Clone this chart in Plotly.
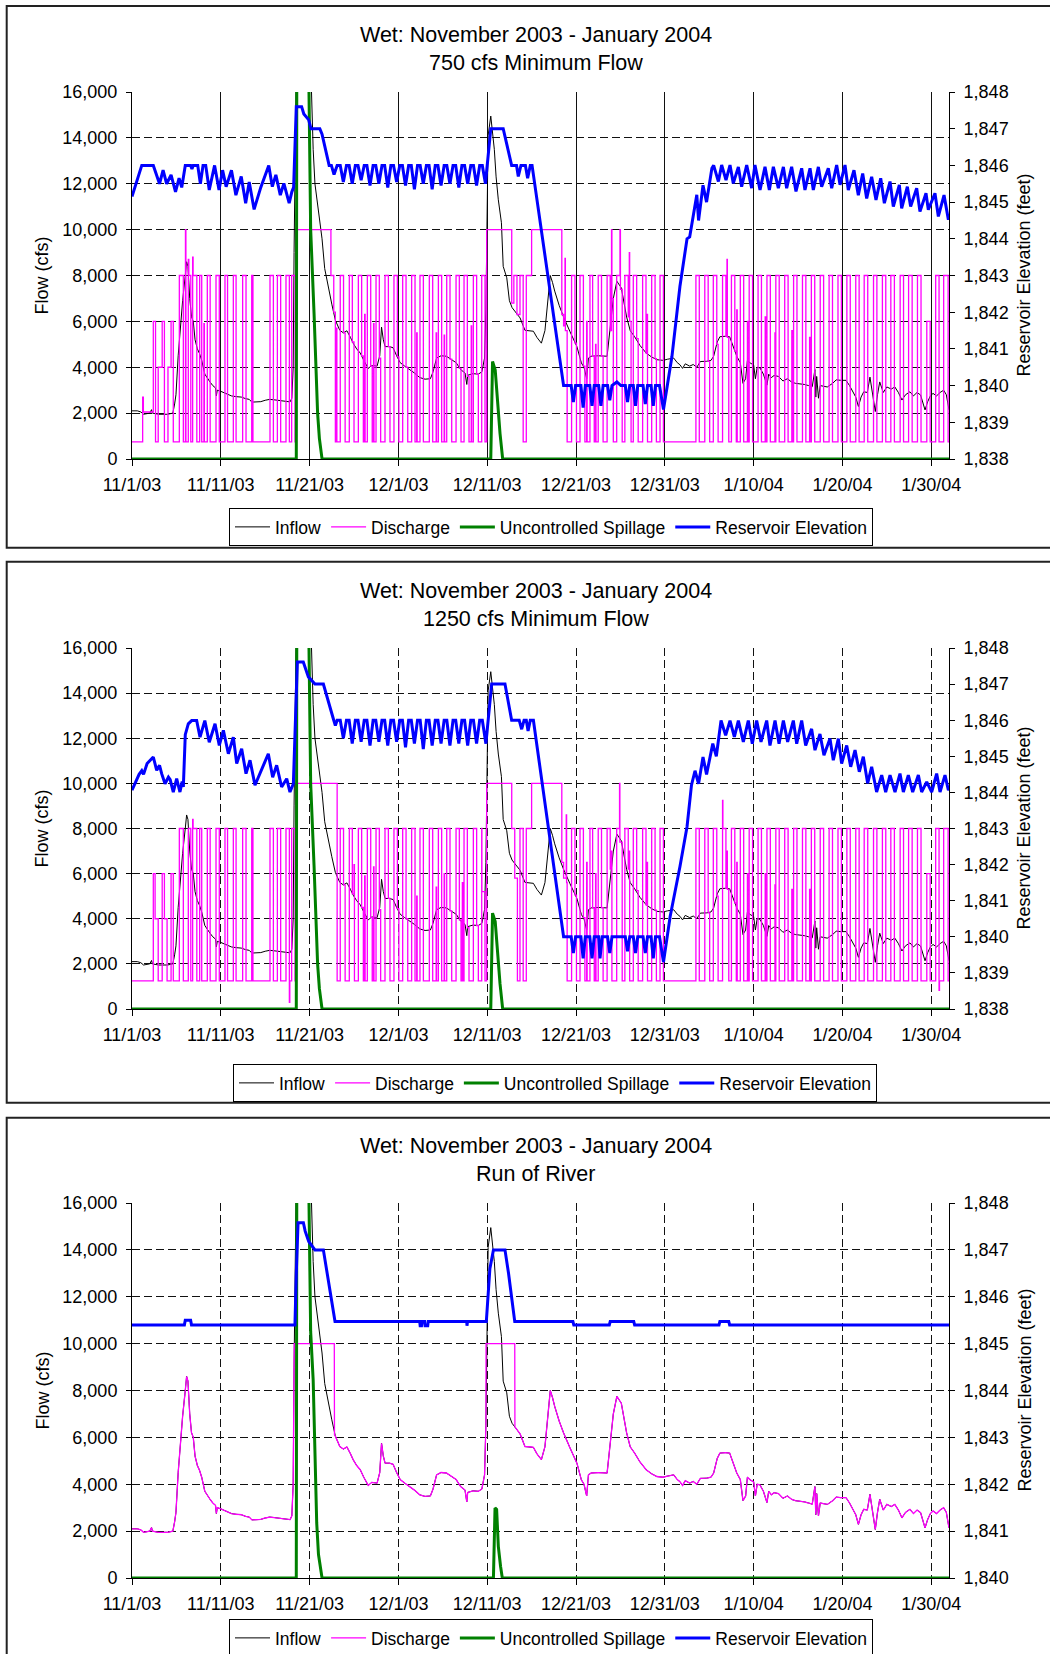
import numpy as np
import pandas as pd
import plotly.graph_objects as go

START = "2003-11-01"
END = "2004-02-01"
TICK_DAYS = [0, 10, 20, 30, 40, 50, 60, 70, 80, 90]
TICK_LABELS = ["11/1/03", "11/11/03", "11/21/03", "12/1/03", "12/11/03",
               "12/21/03", "12/31/03", "1/10/04", "1/20/04", "1/30/04"]
MAIN_TITLE = "Wet: November 2003 - January 2004"
SUB_TITLES = ["750 cfs Minimum Flow", "1250 cfs Minimum Flow", "Run of River"]
SERIES_NAMES = ["Inflow", "Discharge", "Uncontrolled Spillage", "Reservoir Elevation"]

# (day since 11/1/03, cfs)
INFLOW = [
    (0.0, 2100), (0.6, 2100), (1.0, 2050), (1.3, 1950), (2.0, 2000), (2.2, 2150), (2.3, 2000), (3.0, 1950), (4.0, 1950), (4.6, 2000),
    (4.8, 2400), (4.95, 2800), (5.2, 4500), (5.45, 5900), (5.7, 6900), (6.0, 8000), (6.15, 8600), (6.3, 8400), (6.5, 7000), (6.7, 6200),
    (6.9, 6000), (7.1, 5200), (7.36, 4800), (7.6, 4600), (7.85, 4300), (8.2, 3700), (8.5, 3500), (8.8, 3350), (9.1, 3200), (9.4, 3100),
    (9.5, 2750), (9.6, 3000), (10.0, 2950), (10.6, 2850), (11.2, 2750), (11.7, 2720), (12.3, 2700), (12.8, 2630), (13.2, 2600), (13.5, 2480),
    (14.0, 2500), (14.5, 2500), (15.0, 2560), (15.5, 2600), (16.0, 2580), (16.5, 2560), (17.0, 2550), (17.5, 2520), (17.8, 2490), (18.0, 2650),
    (18.15, 4000), (18.25, 9000), (18.35, 16500), (18.6, 20500), (19.2, 22000), (19.8, 19000), (20.2, 16200), (20.4, 13500), (20.6, 12000), (21.0, 10900),
    (21.4, 9600), (21.7, 8300), (21.9, 7900), (22.2, 7200), (22.5, 6750), (22.9, 6050), (23.4, 5610), (23.8, 5500), (24.2, 5590), (24.6, 5300),
    (24.9, 5050), (25.3, 4800), (25.7, 4620), (26.1, 4300), (26.4, 4050), (26.6, 3950), (27.0, 4080), (27.6, 4050), (27.9, 4500), (28.1, 5750),
    (28.3, 5200), (28.5, 4900), (29.0, 4900), (29.4, 4850), (29.8, 4500), (30.2, 4200), (30.7, 4050), (31.3, 3900), (31.8, 3750), (32.4, 3550),
    (33.0, 3480), (33.6, 3500), (33.9, 3800), (34.3, 4400), (34.8, 4500), (35.4, 4480), (35.9, 4350), (36.5, 4200), (37.0, 3900), (37.5, 3750),
    (37.7, 3250), (37.8, 3650), (38.4, 3720), (39.0, 3700), (39.4, 3800), (39.7, 4400), (39.85, 6500), (40.0, 11000), (40.1, 14100), (40.4, 14950),
    (40.6, 14300), (40.8, 13500), (41.0, 12300), (41.25, 11300), (41.6, 10300), (41.8, 8400), (42.2, 7900), (42.5, 6900), (42.8, 6600), (43.1, 6450),
    (43.7, 6150), (44.25, 5610), (44.8, 5600), (45.2, 5570), (45.6, 5300), (46.1, 5050), (46.5, 5600), (46.8, 6800), (47.1, 8000), (47.35, 7700),
    (47.6, 7320), (48.1, 6700), (48.6, 6190), (49.3, 5570), (49.7, 5200), (50.1, 4900), (50.6, 4190), (50.9, 4000), (51.2, 3500), (51.4, 4400),
    (51.7, 4480), (52.5, 4500), (53.5, 4480), (53.8, 5610), (54.2, 7000), (54.6, 7750), (55.1, 7460), (55.7, 6190), (56.1, 5600), (56.6, 5330),
    (57.2, 4950), (57.9, 4620), (58.5, 4450), (59.1, 4330), (59.8, 4300), (60.3, 4350), (61.0, 4400), (61.4, 4200), (61.7, 4110), (62.0, 3950),
    (62.3, 4150), (62.8, 4050), (63.2, 4120), (63.6, 4000), (64.0, 4250), (64.7, 4260), (65.2, 4300), (65.5, 4480), (65.9, 5100), (66.2, 5330),
    (66.8, 5350), (67.3, 5330), (67.7, 4900), (68.1, 4480), (68.5, 4200), (68.8, 3300), (69.1, 3500), (69.3, 4300), (69.6, 4190), (70.0, 4100),
    (70.2, 3500), (70.4, 4000), (70.7, 3980), (71.1, 3700), (71.5, 3220), (71.7, 3700), (72.0, 3550), (72.3, 3640), (72.8, 3600), (73.3, 3400),
    (73.8, 3500), (74.3, 3350), (74.7, 3300), (75.2, 3280), (75.7, 3250), (76.2, 3200), (76.6, 3150), (76.9, 3900), (77.0, 2700), (77.1, 3600),
    (77.3, 2650), (77.5, 3200), (78.0, 3150), (78.3, 3140), (78.9, 3300), (79.3, 3450), (79.8, 3430), (80.4, 3430), (80.8, 3200), (81.2, 2930),
    (81.5, 2700), (81.8, 2290), (82.1, 2700), (82.4, 2930), (82.8, 2900), (83.1, 3570), (83.4, 2700), (83.7, 2070), (83.95, 2800), (84.2, 3360),
    (84.6, 2900), (85.0, 3140), (85.5, 3050), (85.9, 3140), (86.3, 2900), (86.7, 2570), (87.1, 2800), (87.6, 2930), (88.0, 2750), (88.4, 2900),
    (88.8, 2790), (89.3, 2140), (89.6, 2500), (89.9, 2750), (90.2, 2860), (90.6, 2750), (91.0, 2900), (91.4, 3000), (91.7, 2800), (92.0, 2140),
]

# Discharge, 750 cfs minimum (step series)
DIS1 = [
    (0.0, 750), (1.2, 2700), (1.28, 2050), (2.4, 6000), (2.65, 750), (2.95, 4000), (3.4, 6000), (3.65, 750), (4.05, 4000), (4.4, 6000), (4.65, 750),
    (5.33, 8000), (5.78, 750), (6.02, 10000), (6.07, 750), (6.34, 8700), (6.4, 8000), (6.62, 750), (6.83, 8800), (6.88, 8000), (7.3, 750),
    (7.62, 8000), (7.85, 750), (8.1, 5900), (8.15, 750), (8.48, 8000), (8.8, 750), (9.46, 8000), (9.83, 750), (10.47, 8000), (10.76, 750),
    (11.41, 8000), (11.72, 750), (12.46, 8000), (12.84, 750), (13.48, 8000), (13.62, 750),
    (15.54, 8000), (15.92, 750), (16.37, 8000), (16.74, 750), (17.34, 8000), (17.72, 750), (17.98, 8000), (18.36, 750),
    (18.43, 10000), (22.4, 8000), (22.72, 6400), (22.9, 750), (23.02, 5700), (23.07, 750), (23.45, 8000), (23.82, 5500), (24.0, 750),
    (24.47, 8000), (24.81, 5100), (25.0, 750), (25.49, 8000), (25.86, 4500), (26.05, 750), (26.2, 6300), (26.25, 750),
    (26.5, 8000), (26.88, 4050), (27.05, 750), (27.2, 5900), (27.25, 750),
    (27.48, 8000), (27.85, 4400), (28.0, 750), (28.49, 8000), (28.87, 4900), (29.05, 750), (29.5, 8000), (29.88, 4450), (30.05, 750),
    (30.48, 8000), (30.86, 4000), (31.05, 750),
    (31.49, 8000), (31.87, 750), (32.06, 5500), (32.11, 750), (32.43, 8000), (32.81, 750), (33.48, 8000), (33.86, 750), (34.25, 5500), (34.3, 750),
    (34.5, 8000), (34.87, 750), (35.15, 5400), (35.2, 750), (35.44, 8000), (35.81, 4350), (36.0, 750), (36.49, 8000), (36.86, 3950), (37.05, 750),
    (37.39, 8000), (37.76, 3600), (37.95, 750), (38.2, 5800), (38.25, 750), (38.44, 8000), (38.81, 3700), (39.0, 750), (39.38, 8000), (39.75, 750),
    (39.94, 10000), (42.76, 6800), (43.0, 8000), (43.35, 6300), (43.69, 8000), (44.05, 750), (44.4, 8000), (45.0, 10000),
    (48.4, 6300), (48.6, 5800), (48.76, 8750), (48.8, 5600), (49.0, 750), (49.5, 8000), (49.88, 5050), (50.05, 750),
    (50.45, 8000), (50.83, 4050), (51.0, 750), (51.2, 6000), (51.25, 750), (51.57, 8000), (51.87, 4480), (52.05, 750), (52.2, 5000), (52.25, 750),
    (52.5, 8000), (52.87, 4490), (53.05, 750),
    (53.5, 8000), (53.85, 5600), (54.0, 10000), (54.04, 7000), (54.2, 750), (54.58, 8000), (54.95, 10000), (55.0, 7400), (55.2, 750),
    (55.5, 8000), (55.88, 6200), (56.0, 9000), (56.04, 6000), (56.2, 750), (56.45, 8000), (56.83, 5250), (57.0, 750),
    (57.5, 8000), (57.88, 4620), (58.0, 6300), (58.05, 750),
    (58.52, 8000), (58.9, 4380), (59.05, 750), (59.46, 8000), (59.84, 750),
    (63.5, 8000), (63.88, 750), (64.5, 8000), (64.88, 4260), (65.05, 750), (65.46, 8000), (65.85, 5000), (66.0, 750),
    (66.5, 8000), (66.88, 5350), (67.0, 8700), (67.04, 5300), (67.2, 750),
    (67.5, 8000), (67.88, 4700), (68.05, 750), (68.1, 6500), (68.15, 750), (68.5, 8000), (68.88, 750), (69.3, 6000), (69.35, 750), (69.5, 8000), (69.88, 750),
    (70.5, 8000), (70.88, 750), (71.3, 6200), (71.35, 750), (71.5, 8000), (71.88, 750), (72.4, 5500), (72.45, 750), (72.5, 8000), (72.88, 750),
    (73.5, 8000), (73.88, 750), (74.3, 5600), (74.35, 750), (74.5, 8000), (74.88, 750), (75.5, 8000), (75.88, 750), (76.3, 5300), (76.35, 750),
    (76.5, 8000), (76.88, 750), (77.5, 8000), (77.88, 750), (78.5, 8000), (78.88, 750), (79.5, 8000), (79.88, 750), (80.5, 8000), (80.88, 750),
    (81.5, 8000), (81.88, 750), (82.45, 8000), (82.85, 750), (83.5, 8000), (83.88, 750), (84.5, 8000), (84.88, 750), (85.45, 8000), (85.85, 750),
    (86.5, 8000), (86.88, 750), (87.45, 8000), (87.85, 750), (88.45, 8000), (88.85, 750), (89.5, 6000), (89.88, 750), (90.5, 8000), (90.88, 750),
    (91.4, 8000), (91.9, 750), (92.0, 750),
]

# Discharge, 1250 cfs minimum (step series)
DIS2 = [
    (0.0, 1250), (2.4, 6000), (2.6, 4000), (2.95, 1250), (3.4, 6000), (3.65, 4000), (3.95, 1250), (4.4, 6000), (4.65, 1250),
    (5.33, 8000), (5.78, 1250), (6.34, 8000), (6.62, 1250), (6.83, 8400), (6.88, 8000), (7.3, 1250),
    (7.62, 8000), (7.85, 1250), (8.48, 8000), (8.8, 1250), (9.46, 8000), (9.83, 1250), (10.47, 8000), (10.76, 1250),
    (11.41, 8000), (11.72, 1250), (12.46, 8000), (12.84, 1250), (13.48, 8000), (13.62, 1250),
    (15.54, 8000), (15.92, 1250), (16.37, 8000), (16.74, 1250), (17.34, 8000), (17.72, 300), (17.77, 1250), (17.98, 8000), (18.36, 1250),
    (18.43, 10000), (23.1, 1250), (23.45, 8000), (23.82, 5500), (24.0, 1250),
    (24.47, 8000), (24.81, 5100), (25.0, 6400), (25.05, 1250), (25.49, 8000), (25.86, 4500), (26.05, 1250), (26.2, 5900), (26.25, 1250),
    (26.5, 8000), (26.88, 4050), (27.05, 1250), (27.2, 6300), (27.25, 1250),
    (27.48, 8000), (27.85, 4400), (28.0, 1250), (28.49, 8000), (28.87, 4900), (29.05, 1250), (29.5, 8000), (29.88, 4450), (30.05, 1250),
    (30.48, 8000), (30.86, 4000), (31.05, 1250),
    (31.49, 8000), (31.87, 1250), (32.06, 5000), (32.11, 1250), (32.43, 8000), (32.81, 1250), (33.48, 8000), (33.86, 1250), (34.25, 5400), (34.3, 1250),
    (34.5, 8000), (34.87, 1250), (35.15, 6000), (35.2, 1250), (35.44, 8000), (35.81, 4350), (36.0, 1250), (36.49, 8000), (36.86, 3950), (37.05, 1250),
    (37.2, 5600), (37.25, 1250),
    (37.39, 8000), (37.76, 3600), (37.95, 1250), (38.44, 8000), (38.81, 3700), (39.0, 1250), (39.38, 8000), (39.4, 5200), (39.75, 1250),
    (39.94, 10000), (42.76, 8000), (43.1, 5800), (43.4, 1250), (43.69, 8000), (44.05, 1250), (44.4, 8000), (45.0, 10000),
    (48.4, 6500), (48.6, 5800), (48.9, 8600), (48.94, 5600), (49.0, 1250), (49.5, 8000), (49.88, 5050), (50.05, 1250),
    (50.45, 8000), (50.83, 4050), (51.0, 1250), (51.2, 6500), (51.25, 1250), (51.57, 8000), (51.87, 4480), (52.05, 1250), (52.2, 6000), (52.25, 1250),
    (52.5, 8000), (52.87, 4490), (53.05, 1250),
    (53.5, 8000), (53.85, 6200), (54.0, 7000), (54.04, 1250), (54.58, 8000), (54.9, 10000), (54.94, 7400), (55.2, 1250),
    (55.5, 8000), (55.88, 6200), (56.0, 7000), (56.04, 1250), (56.45, 8000), (56.83, 5250), (57.0, 1250),
    (57.5, 8000), (57.88, 4620), (58.0, 6500), (58.05, 1250),
    (58.52, 8000), (58.9, 4380), (59.05, 1250), (59.46, 8000), (59.84, 1250),
    (63.5, 8000), (63.88, 1250), (64.5, 8000), (64.88, 4260), (65.05, 1250), (65.46, 8000), (65.85, 5000), (66.0, 1250),
    (66.5, 9250), (66.54, 8000), (66.88, 5350), (67.0, 7000), (67.04, 5300), (67.2, 1250),
    (67.5, 8000), (67.88, 4700), (68.05, 1250), (68.1, 6500), (68.15, 1250), (68.5, 8000), (68.88, 1250), (69.3, 6000), (69.35, 1250), (69.5, 8000), (69.88, 1250),
    (70.5, 8000), (70.88, 1250), (71.3, 6000), (71.35, 1250), (71.5, 8000), (71.88, 1250), (72.4, 5500), (72.45, 1250), (72.5, 8000), (72.88, 1250),
    (73.5, 8000), (73.88, 1250), (74.3, 5300), (74.35, 1250), (74.5, 8000), (74.88, 1250), (75.5, 8000), (75.88, 1250), (76.3, 5300), (76.35, 1250),
    (76.5, 8000), (76.88, 1250), (77.5, 8000), (77.88, 1250), (78.5, 8000), (78.88, 1250), (79.5, 8000), (79.88, 1250), (80.5, 8000), (80.88, 1250),
    (81.5, 8000), (81.88, 1250), (82.45, 8000), (82.85, 1250), (83.5, 8000), (83.88, 1250), (84.5, 8000), (84.88, 1250), (85.45, 8000), (85.85, 1250),
    (86.5, 8000), (86.88, 1250), (87.45, 8000), (87.85, 1250), (88.45, 8000), (88.85, 1250), (89.5, 6000), (89.88, 1250), (90.5, 8000), (90.88, 830), (90.93, 1250),
    (91.4, 8000), (91.9, 1250), (92.0, 1250),
]

# Run of river: discharge follows inflow except where capped at 10,000 cfs
DIS3_CAP1 = [(18.27, 10000), (22.78, 10000), (22.8, 6100)]
DIS3_CAP2 = [(39.87, 10000), (43.1, 10000), (43.12, 6450)]

SPILL12 = [(0.0, 0), (18.5, 0), (18.6, 30000), (19.75, 30000), (19.93, 16000), (20.12, 10000), (20.5, 6350), (20.9, 2000), (21.1, 900), (21.4, 0),
           (40.4, 0), (40.6, 4250), (40.9, 3880), (41.07, 2860), (41.25, 1900), (41.44, 1120), (41.74, 0), (92.0, 0)]
SPILL3 = [(0.0, 0), (18.5, 0), (18.6, 30000), (19.75, 30000), (19.93, 16000), (20.12, 10500), (20.4, 8460), (20.8, 2350), (21.0, 1000), (21.4, 0),
          (40.7, 0), (40.88, 2990), (41.06, 2930), (41.25, 1350), (41.5, 500), (41.7, 0), (92.0, 0)]

# Reservoir elevation (feet)
ELEV1 = [
    (0.0, 1845.15), (1.1, 1846.0), (2.4, 1846.0), (3.1, 1845.5), (3.5, 1845.87), (3.9, 1845.5), (4.4, 1845.74), (4.9, 1845.28), (5.3, 1845.65), (5.6, 1845.4),
    (6.0, 1846.0), (6.6, 1846.0), (6.75, 1845.9), (6.9, 1846.0), (7.4, 1846.0), (7.7, 1845.5), (8.0, 1846.0), (8.3, 1846.0), (8.7, 1845.33), (9.3, 1846.0),
    (9.8, 1845.33), (10.2, 1845.87), (10.6, 1845.42), (11.2, 1845.87), (11.7, 1845.19), (12.3, 1845.7), (12.8, 1844.97), (13.2, 1845.55), (13.75, 1844.8), (14.5, 1845.4),
    (15.4, 1846.0), (15.8, 1845.42), (16.2, 1845.74), (16.7, 1845.19), (17.1, 1845.51), (17.7, 1844.97), (18.0, 1845.28), (18.2, 1845.4), (18.5, 1847.6), (19.1, 1847.6),
    (19.35, 1847.4), (19.9, 1847.24), (20.15, 1847.0), (21.15, 1847.0), (21.4, 1846.85), (22.2, 1846.0),
    (22.45, 1846.0), (22.75, 1845.75), (23.1, 1846.0), (23.45, 1846.0), (23.8, 1845.55), (24.15, 1846.0), (24.45, 1846.0), (24.8, 1845.5), (25.15, 1846.0),
    (25.45, 1846.0), (25.8, 1845.6), (26.15, 1846.0), (26.45, 1846.0), (26.8, 1845.45), (27.15, 1846.0), (27.45, 1846.0), (27.8, 1845.5), (28.15, 1846.0),
    (28.45, 1846.0), (28.8, 1845.4), (29.15, 1846.0), (29.45, 1846.0), (29.8, 1845.55), (30.15, 1846.0), (30.45, 1846.0), (30.8, 1845.45), (31.15, 1846.0),
    (31.45, 1846.0), (31.8, 1845.35), (32.15, 1846.0), (32.45, 1846.0), (32.8, 1845.5), (33.15, 1846.0), (33.45, 1846.0), (33.8, 1845.35), (34.15, 1846.0),
    (34.45, 1846.0), (34.8, 1845.45), (35.15, 1846.0), (35.45, 1846.0), (35.8, 1845.5), (36.15, 1846.0), (36.45, 1846.0), (36.8, 1845.4), (37.15, 1846.0),
    (37.45, 1846.0), (37.8, 1845.5), (38.15, 1846.0), (38.45, 1846.0), (38.8, 1845.45), (39.15, 1846.0), (39.45, 1846.0), (39.8, 1845.5),
    (40.4, 1847.0), (41.8, 1847.0), (42.75, 1846.0), (43.3, 1846.0), (43.5, 1845.7), (43.8, 1846.0), (44.3, 1846.0), (44.55, 1845.65), (44.85, 1846.0),
    (45.05, 1846.0), (46.8, 1843.0), (48.6, 1840.0),
    (49.45, 1840.0), (49.7, 1839.55), (49.95, 1840.0), (50.55, 1840.0), (50.8, 1839.4), (51.05, 1840.0), (51.55, 1840.0), (51.8, 1839.45), (52.05, 1840.0),
    (52.55, 1840.0), (52.8, 1839.45), (53.05, 1840.0), (53.55, 1840.0), (53.8, 1839.6), (54.05, 1840.0), (54.6, 1840.1), (55.05, 1840.0), (55.55, 1840.0),
    (55.8, 1839.55), (56.05, 1840.0), (56.45, 1840.0), (56.7, 1839.45), (56.95, 1840.0), (57.55, 1840.0), (57.8, 1839.5), (58.05, 1840.0), (58.45, 1840.0),
    (58.7, 1839.45), (58.95, 1840.0), (59.4, 1840.0), (59.85, 1839.35),
    (60.8, 1840.79), (61.7, 1842.7), (62.5, 1844.0), (62.8, 1844.05), (63.2, 1844.6), (63.6, 1845.2), (63.8, 1844.5), (64.3, 1845.46), (64.7, 1845.0),
    (65.3, 1845.92), (65.5, 1846.0),
    (66.03, 1845.56), (66.4, 1846.01), (66.89, 1845.6), (67.34, 1846.01), (67.71, 1845.51), (68.28, 1845.96), (68.65, 1845.42), (69.22, 1846.01),
    (69.78, 1845.38), (70.15, 1846.01), (70.72, 1845.33), (71.28, 1845.96), (71.77, 1845.33), (72.22, 1845.96), (72.78, 1845.38), (73.35, 1845.96),
    (73.72, 1845.38), (74.28, 1845.96), (74.77, 1845.29), (75.41, 1845.92), (75.78, 1845.33), (76.35, 1845.92), (76.72, 1845.33), (77.29, 1845.96),
    (77.66, 1845.42), (78.41, 1845.92), (78.79, 1845.38), (79.35, 1846.01), (79.73, 1845.47), (80.29, 1846.01), (80.66, 1845.33), (81.3, 1845.87),
    (81.79, 1845.19), (82.28, 1845.78), (82.73, 1845.1), (83.29, 1845.69), (83.78, 1845.06), (84.31, 1845.65), (84.72, 1844.97), (85.36, 1845.56),
    (85.73, 1844.88), (86.41, 1845.47), (86.67, 1844.83), (87.31, 1845.42), (87.68, 1844.88), (88.36, 1845.38), (88.73, 1844.74), (89.41, 1845.24),
    (89.67, 1844.79), (90.42, 1845.24), (90.8, 1844.61), (91.44, 1845.19), (91.93, 1844.52), (92.0, 1844.6),
]

ELEV2 = [
    (0.0, 1844.06), (0.4, 1844.3), (0.8, 1844.5), (1.1, 1844.6), (1.3, 1844.5), (1.7, 1844.8), (2.4, 1844.98), (2.78, 1844.61), (3.1, 1844.75),
    (3.34, 1844.52), (3.72, 1844.24), (4.1, 1844.42), (4.3, 1844.35), (4.65, 1844.01), (5.03, 1844.38), (5.4, 1844.01), (5.65, 1844.3), (5.78, 1844.15),
    (6.0, 1845.6), (6.34, 1845.9), (6.72, 1845.99), (7.28, 1845.99), (7.66, 1845.53), (8.2, 1845.99), (8.7, 1845.39), (9.35, 1845.9), (9.83, 1845.3),
    (10.29, 1845.72), (10.85, 1845.07), (11.41, 1845.53), (11.79, 1844.8), (12.35, 1845.21), (12.84, 1844.52), (13.29, 1844.89), (13.85, 1844.2),
    (15.35, 1845.07), (15.84, 1844.42), (16.29, 1844.75), (16.85, 1844.15), (17.42, 1844.38), (17.79, 1844.01), (18.17, 1844.24), (18.62, 1847.61),
    (19.29, 1847.61), (19.86, 1847.2), (20.6, 1847.0), (21.55, 1847.0), (22.67, 1846.04), (22.9, 1845.85), (23.1, 1846.0),
    (23.45, 1846.0), (23.8, 1845.5), (24.15, 1846.0), (24.45, 1846.0), (24.8, 1845.35), (25.15, 1846.0), (25.45, 1846.0), (25.8, 1845.4), (26.15, 1846.0),
    (26.45, 1846.0), (26.8, 1845.3), (27.15, 1846.0), (27.45, 1846.0), (27.8, 1845.4), (28.15, 1846.0), (28.45, 1846.0), (28.8, 1845.3), (29.15, 1846.0),
    (29.45, 1846.0), (29.8, 1845.4), (30.15, 1846.0), (30.45, 1846.0), (30.8, 1845.25), (31.15, 1846.0), (31.45, 1846.0), (31.8, 1845.35), (32.15, 1846.0),
    (32.45, 1846.0), (32.8, 1845.2), (33.15, 1846.0), (33.45, 1846.0), (33.8, 1845.3), (34.15, 1846.0), (34.45, 1846.0), (34.8, 1845.35), (35.15, 1846.0),
    (35.45, 1846.0), (35.8, 1845.3), (36.15, 1846.0), (36.45, 1846.0), (36.8, 1845.35), (37.15, 1846.0), (37.45, 1846.0), (37.8, 1845.3), (38.15, 1846.0),
    (38.45, 1846.0), (38.8, 1845.35), (39.15, 1846.0), (39.45, 1846.0), (39.85, 1845.35),
    (40.5, 1847.0), (42.0, 1847.0), (42.75, 1846.0), (43.6, 1846.0), (43.88, 1845.75), (44.15, 1846.0), (44.4, 1846.0), (44.6, 1845.7), (44.85, 1846.0),
    (45.2, 1846.0), (46.9, 1843.0), (48.6, 1840.0),
    (49.45, 1840.0), (49.7, 1839.55), (49.95, 1840.0), (50.55, 1840.0), (50.8, 1839.4), (51.05, 1840.0), (51.55, 1840.0), (51.8, 1839.4), (52.05, 1840.0),
    (52.55, 1840.0), (52.7, 1839.4), (52.95, 1840.0), (53.55, 1840.0), (53.8, 1839.55), (54.05, 1840.0), (55.55, 1840.0), (55.8, 1839.6), (56.05, 1840.0),
    (56.45, 1840.0), (56.7, 1839.55), (56.95, 1840.0), (57.55, 1840.0), (57.8, 1839.55), (58.05, 1840.0), (58.45, 1840.0), (58.7, 1839.4), (58.95, 1840.0),
    (59.4, 1840.0), (59.85, 1839.3),
    (60.6, 1840.56), (61.7, 1841.94), (62.5, 1843.05), (63.0, 1844.2), (63.4, 1844.6), (63.8, 1844.24), (64.3, 1844.98), (64.7, 1844.5), (65.4, 1845.35),
    (65.8, 1845.0), (66.33, 1845.99), (66.85, 1845.58), (67.34, 1845.99), (67.83, 1845.54), (68.28, 1845.99), (68.84, 1845.4), (69.4, 1845.99),
    (69.85, 1845.35), (70.34, 1845.99), (70.83, 1845.4), (71.47, 1845.99), (71.84, 1845.3), (72.41, 1845.99), (72.86, 1845.35), (73.35, 1845.99),
    (73.83, 1845.4), (74.47, 1845.99), (74.85, 1845.35), (75.41, 1845.99), (75.86, 1845.3), (76.53, 1845.76), (76.91, 1845.17), (77.47, 1845.62),
    (77.92, 1845.03), (78.6, 1845.49), (78.97, 1844.89), (79.54, 1845.49), (79.91, 1844.8), (80.48, 1845.3), (80.93, 1844.71), (81.42, 1845.17),
    (81.9, 1844.57), (82.35, 1844.99), (82.84, 1844.25), (83.29, 1844.71), (83.85, 1844.01), (84.42, 1844.48), (84.87, 1844.01), (85.36, 1844.48),
    (85.92, 1844.01), (86.48, 1844.52), (86.86, 1844.01), (87.42, 1844.48), (87.91, 1844.01), (88.55, 1844.48), (88.92, 1844.01), (89.49, 1844.29),
    (90.05, 1844.01), (90.61, 1844.52), (90.99, 1844.01), (91.55, 1844.48), (91.93, 1844.06), (92.0, 1844.1),
]

ELEV3 = [
    (0.0, 1845.4), (5.9, 1845.4), (6.0, 1845.5), (6.6, 1845.5), (6.7, 1845.4), (18.35, 1845.4), (18.5, 1846.5), (18.7, 1847.58), (19.3, 1847.58),
    (19.5, 1847.4), (19.9, 1847.18), (20.6, 1847.0), (21.55, 1847.0), (21.8, 1846.7), (22.86, 1845.47), (32.4, 1845.47), (32.45, 1845.38),
    (32.6, 1845.38), (32.65, 1845.47), (32.95, 1845.47), (33.0, 1845.38), (33.3, 1845.38), (33.35, 1845.47), (37.7, 1845.47), (37.72, 1845.38),
    (37.78, 1845.47), (39.9, 1845.47), (40.3, 1846.6), (40.7, 1847.0), (42.0, 1847.0), (42.4, 1846.5), (43.1, 1845.47), (49.65, 1845.47),
    (49.75, 1845.4), (53.75, 1845.4), (53.85, 1845.47), (56.5, 1845.47), (56.6, 1845.4), (66.1, 1845.4), (66.2, 1845.47), (67.2, 1845.47),
    (67.3, 1845.4), (92.0, 1845.4),
]

FONT = "Arial, Liberation Sans, sans-serif"
H = 1654.0
W = 1050.0


def to_dates(days):
    return pd.Timestamp(START) + pd.to_timedelta(np.asarray(days, dtype=float), unit="D")


def split(pairs):
    t, v = zip(*pairs)
    return to_dates(t), list(v)


def py(pix):
    return 1 - pix / H


def ax(prefix, k):
    return prefix if k == 1 else f"{prefix}{k}"


dis3 = ([p for p in INFLOW if p[0] < 18.27] + DIS3_CAP1 +
        [p for p in INFLOW if 22.8 < p[0] < 39.87] + DIS3_CAP2 +
        [p for p in INFLOW if p[0] > 43.12])

panels = [
    dict(dis=DIS1, spill=SPILL12, elev=ELEV1, erange=[1838, 1848], top=92, bot=459, xgrid="solid",
         frame=(6, 547.7), legend_top=508, legend_x=551),
    dict(dis=DIS2, spill=SPILL12, elev=ELEV2, erange=[1838, 1848], top=648, bot=1009, xgrid="8px,4px",
         frame=(561.7, 1102.7), legend_top=1064, legend_x=555),
    dict(dis=dis3, spill=SPILL3, elev=ELEV3, erange=[1840, 1848], top=1203, bot=1578, xgrid="8px,4px",
         frame=(1117.7, 1680), legend_top=1619, legend_x=551),
]

X0, X1 = 132 / W, 949 / W
fig = go.Figure()
layout = dict(
    width=1050, height=1654, margin=dict(l=0, r=0, t=0, b=0, autoexpand=False),
    paper_bgcolor="white", plot_bgcolor="white",
    font=dict(family=FONT, size=18, color="black"),
    showlegend=True, shapes=[], annotations=[],
)

tickvals = list(to_dates(TICK_DAYS))
colors = ["#000000", "#FF00FF", "#008000", "#0000FF"]
widths = [1, 1.3, 3, 3]

for i, p in enumerate(panels):
    xk, ylk, yrk = i + 1, 2 * i + 1, 2 * i + 2
    lg = ax("legend", i + 1)
    series = [INFLOW, p["dis"], p["spill"], p["elev"]]
    for j, s in enumerate(series):
        x, y = split(s)
        shape = "hv" if (j == 1 and i < 2) else "linear"
        fig.add_trace(go.Scatter(
            x=x, y=y, mode="lines", name=SERIES_NAMES[j],
            line=dict(color=colors[j], width=widths[j], shape=shape),
            xaxis=ax("x", xk), yaxis=ax("y", yrk if j == 3 else ylk),
            legend=lg, hoverinfo="skip",
        ))
    dom = [py(p["bot"]), py(p["top"])]
    layout[ax("xaxis", xk)] = dict(
        domain=[X0, X1], anchor=ax("y", ylk), type="date",
        range=[START, END], tickmode="array", tickvals=tickvals, ticktext=TICK_LABELS,
        showgrid=True, gridcolor="#111111", gridwidth=1, griddash=p["xgrid"],
        ticks="outside", ticklen=6, tickcolor="black", showline=True, linecolor="black",
        tickfont=dict(size=18, family=FONT), ticklabelstandoff=3, zeroline=False, automargin=False,
    )
    layout[ax("yaxis", ylk)] = dict(
        domain=dom, anchor=ax("x", xk), range=[0, 16000], dtick=2000, tick0=0,
        tickformat=",d", showgrid=True, gridcolor="#111111", gridwidth=1, griddash="8px,4px",
        ticks="outside", ticklen=5, tickcolor="black", showline=True, linecolor="black",
        tickfont=dict(size=18, family=FONT), ticklabelstandoff=5, zeroline=False, automargin=False,
    )
    layout[ax("yaxis", yrk)] = dict(
        overlaying=ax("y", ylk), side="right", anchor=ax("x", xk),
        range=p["erange"], dtick=1, tick0=p["erange"][0], tickformat=",d", showgrid=False,
        ticks="outside", ticklen=5, tickcolor="black", showline=True, linecolor="black",
        tickfont=dict(size=18, family=FONT), ticklabelstandoff=5, zeroline=False, automargin=False,
    )
    layout[lg] = dict(
        orientation="h", x=p["legend_x"] / W, xanchor="center", y=py(p["legend_top"]), yanchor="top",
        bordercolor="black", borderwidth=1, bgcolor="white",
        font=dict(size=17.5, family=FONT), itemwidth=35, tracegroupgap=0,
    )
    ftop, fbot = p["frame"]
    layout["shapes"].append(dict(
        type="rect", xref="paper", yref="paper", x0=6.7 / W, x1=1.1, y0=py(fbot), y1=py(ftop),
        line=dict(color="#222222", width=2), fillcolor="rgba(0,0,0,0)", layer="above",
    ))
    title_top = p["top"] - 57
    layout["annotations"] += [
        dict(text=MAIN_TITLE, x=536 / W, y=py(title_top), xref="paper", yref="paper",
             showarrow=False, font=dict(size=21.5, family=FONT), xanchor="center", yanchor="middle"),
        dict(text=SUB_TITLES[i], x=536 / W, y=py(title_top + 28), xref="paper", yref="paper",
             showarrow=False, font=dict(size=21.5, family=FONT), xanchor="center", yanchor="middle"),
        dict(text="Flow (cfs)", x=42 / W, y=py((p["top"] + p["bot"]) / 2), xref="paper", yref="paper",
             showarrow=False, textangle=-90, font=dict(size=18, family=FONT), xanchor="center", yanchor="middle"),
        dict(text="Reservoir Elevation (feet)", x=1024 / W, y=py((p["top"] + p["bot"]) / 2), xref="paper", yref="paper",
             showarrow=False, textangle=-90, font=dict(size=18, family=FONT), xanchor="center", yanchor="middle"),
    ]

fig.update_layout(**layout)
fig.write_html("out.html")
